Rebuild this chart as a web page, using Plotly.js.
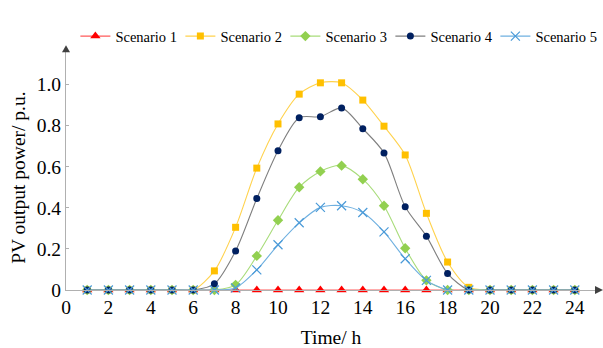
<!DOCTYPE html>
<html>
<head>
<meta charset="utf-8">
<script src="https://cdn.plot.ly/plotly-3.0.1.min.js"></script>
<style>html,body{margin:0;padding:0;background:#fff}#chart{width:603px;height:348px}</style>
</head>
<body>
<div id="chart"></div>
<script>
var hours = [1,2,3,4,5,6,7,8,9,10,11,12,13,14,15,16,17,18,19,20,21,22,23,24];
var scenario1 = [0,0,0,0,0,0,0,0,0,0,0,0,0,0,0,0,0,0,0,0,0,0,0,0];
var scenario2 = [0,0,0,0,0,0,0.093,0.305,0.593,0.808,0.953,1.008,1.008,0.924,0.797,0.657,0.373,0.136,0.013,0,0,0,0,0];
var scenario3 = [0,0,0,0,0,0,0,0.025,0.166,0.339,0.50,0.577,0.605,0.539,0.41,0.203,0.047,0,0,0,0,0,0,0];
var scenario4 = [0,0,0,0,0,0,0.03,0.19,0.445,0.678,0.838,0.843,0.886,0.785,0.667,0.405,0.262,0.08,0,0,0,0,0,0];
var scenario5 = [0,0,0,0,0,0,0,0.01,0.098,0.22,0.327,0.402,0.41,0.377,0.283,0.152,0.047,0,0,0,0,0,0,0];
var names = ["Scenario 1","Scenario 2","Scenario 3","Scenario 4","Scenario 5"];
var xTicks = [0,2,4,6,8,10,12,14,16,18,20,22,24];
var yTicks = [0,0.2,0.4,0.6,0.8,1.0];
var yTickText = ["0","0.2","0.4","0.6","0.8","1.0"];

var FONT = "Liberation Serif";
var series = [scenario1, scenario2, scenario3, scenario4, scenario5];
var lineColors = ["#ff5a5a","#ffd24d","#a8dc7a","#7f7f7f","#6fb0e0"];
var markerColors = ["#ff0000","#ffc000","#92d050","#002060","#4a9ad8"];
var symbols = ["triangle-up","square","diamond","circle","x-thin-open"];
var sizes = [9,7,8,7,9];

var traces = [];
for (var i = 0; i < 5; i++) {
  traces.push({
    x: hours, y: series[i], name: names[i], type: "scatter", mode: "lines+markers",
    line: {color: lineColors[i], width: 1.1, shape: "spline", smoothing: 0.8},
    marker: {color: markerColors[i], symbol: symbols[i], size: sizes[i],
             line: {color: markerColors[i], width: i === 4 ? 1.2 : 0}},
    cliponaxis: false
  });
}

var layout = {
  width: 603, height: 348,
  margin: {l: 66, r: 7, t: 17, b: 58},
  paper_bgcolor: "#fff", plot_bgcolor: "#fff",
  font: {family: FONT, color: "#000"},
  showlegend: true,
  legend: {orientation: "h", xref: "container", yref: "container", x: 0.125, y: 0.896,
           xanchor: "left", yanchor: "middle", entrywidthmode: "pixels", entrywidth: 60,
           font: {size: 14.5, family: FONT}, bgcolor: "rgba(0,0,0,0)",
           traceorder: "normal", itemwidth: 30},
  xaxis: {range: [0, 25], tickvals: xTicks, ticktext: xTicks.map(String),
          showgrid: false, zeroline: false, showline: true, linecolor: "#b0b0b0", linewidth: 1,
          ticks: "", tickfont: {size: 19.5, family: FONT},
          title: {text: "Time/ h", font: {size: 19.5, family: FONT}, standoff: 12}},
  yaxis: {range: [0, 1.157], tickvals: yTicks, ticktext: yTickText,
          showgrid: false, zeroline: false, showline: true, linecolor: "#b0b0b0", linewidth: 1,
          ticks: "inside", ticklen: 3, tickcolor: "#b0b0b0", tickfont: {size: 19.5, family: FONT}},
  annotations: [{xref: "paper", yref: "paper", x: -0.091, y: 0.5, xanchor: "center", yanchor: "middle",
                 yshift: -7, text: "PV output power/ p.u.", textangle: -90, showarrow: false,
                 font: {size: 19.5, family: FONT}}],
  shapes: [
    {type: "path", xref: "paper", yref: "paper", xsizemode: "pixel", ysizemode: "pixel",
     xanchor: 1, yanchor: 0, path: "M -1 -4 L 7 0 L -1 4 Z", fillcolor: "#404040", line: {width: 0}},
    {type: "path", xref: "paper", yref: "paper", xsizemode: "pixel", ysizemode: "pixel",
     xanchor: 0, yanchor: 1, path: "M -4 0 L 0 7 L 4 0 Z", fillcolor: "#404040", line: {width: 0}}
  ]
};
Plotly.newPlot("chart", traces, layout, {displayModeBar: false, staticPlot: true});
</script>
</body>
</html>
